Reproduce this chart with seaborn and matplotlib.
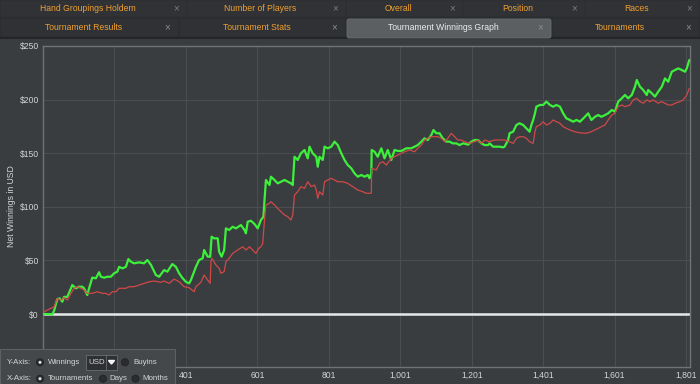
import numpy as np
import pandas as pd
import matplotlib
matplotlib.use('Agg')
import matplotlib.pyplot as plt
from matplotlib.patches import Rectangle, Circle, Polygon, FancyBboxPatch
from matplotlib.ticker import FuncFormatter
import seaborn as sns

# Net winnings (green)
green_t = [1, 9, 27, 32, 41, 48, 55, 60, 69, 79, 83, 93, 102, 111, 116, 125, 130, 139, 149, 158,
           163, 172, 181, 191, 200, 209, 214, 223, 233, 240, 247, 256, 270, 284, 293, 303, 317, 326,
           340, 349, 363, 373, 382, 392, 401, 410, 415, 429, 438, 448, 452, 462, 469, 473, 480, 490,
           494, 501, 508, 513, 522, 532, 541, 555, 565, 569, 574, 583, 593, 602, 611, 618, 621, 625,
           635, 639, 649, 658, 667, 677, 686, 695, 700, 705, 714, 723, 733, 742, 747, 756, 766, 770,
           775, 784, 789, 798, 808, 817, 826, 836, 845, 854, 864, 873, 882, 892, 901, 910, 915, 920,
           921, 929, 938, 948, 957, 966, 976, 985, 994, 1004, 1018, 1032, 1041, 1050, 1060, 1069,
           1078, 1088, 1094, 1102, 1111, 1120, 1130, 1139, 1148, 1158, 1167, 1177, 1191, 1200, 1209,
           1219, 1228, 1237, 1247, 1251, 1261, 1270, 1279, 1289, 1293, 1303, 1307, 1317, 1326, 1335,
           1345, 1354, 1363, 1368, 1373, 1378, 1382, 1392, 1401, 1410, 1420, 1429, 1438, 1448, 1457,
           1466, 1476, 1485, 1494, 1504, 1518, 1527, 1536, 1546, 1555, 1564, 1574, 1583, 1593, 1602,
           1611, 1621, 1630, 1639, 1649, 1658, 1663, 1672, 1681, 1691, 1695, 1705, 1714, 1723, 1733,
           1742, 1751, 1761, 1770, 1779, 1789, 1798, 1803, 1810]
green_v = [0, 0, -0.3, 3, 14, 14.6, 11.5, 16, 16, 24, 27, 24, 25.5, 25.5, 24, 17.7, 24, 34, 33.3, 39,
           34.8, 33.9, 34.8, 34.8, 38, 39.5, 44, 42.6, 44, 51.3, 48.8, 47.3, 48.2, 47.3, 50.4, 46, 36.4, 34.8,
           41, 39.5, 46.6, 44, 38, 33.3, 30.1, 28.6, 31.7, 44, 50.4, 52, 59.7, 53.5, 53.5, 72.1, 70.6, 70.6,
           58.1, 53.5, 59.7, 79.9, 78.4, 81.4, 79.9, 83, 78.4, 75.3, 86.1, 87, 84, 79.9, 87.7, 90.8, 106.3, 125,
           120.3, 128.1, 125, 121.9, 123.4, 125, 123.4, 121.9, 120.3, 146.7, 143.7, 149.9, 153, 145.2, 156.1, 149.9, 146.7, 137.4,
           146.7, 143.7, 156.1, 154.6, 156.1, 160.8, 157.6, 149.9, 143.7, 139, 135.9, 131.2, 128.1, 129.7, 128.1, 129.7, 126.6, 131.2,
           153, 151.4, 146.7, 154.6, 145.2, 153, 143.7, 153, 152.1, 152.1, 154.6, 154.6, 156.1, 157.6, 160.8, 163.9,
           162.3, 167, 171.6, 168.6, 168.6, 163.9, 160.8, 160.8, 159.2, 159.2, 157.6, 159.2, 158, 160.8, 162.3,
           162.3, 159.2, 157.6, 157.6, 159.2, 156.1, 156.1, 156.1, 155.5, 156.1, 162.3, 168.6, 170.1, 176.3, 177.9,
           176.3, 173.2, 170.1, 176.3, 181, 187.2, 193.4, 195, 195, 198.1, 195, 193.4, 195, 193.4, 187.2,
           182.5, 181, 179.4, 181, 179.4, 184, 187.2, 181, 184, 185.6, 184, 185.6, 187.2, 190.3, 188.8,
           198.1, 201.2, 204.3, 201.2, 204.3, 212, 218.3, 212, 209, 204.3, 209, 205.9, 202.8, 207.4, 212,
           219.8, 216.7, 226, 227.6, 229.1, 227.6, 226, 229.1, 236.9]

# Second series (red)
red_t = [1, 13, 23, 32, 41, 51, 60, 69, 79, 88, 97, 107, 116, 125, 139, 153, 167, 177, 186, 195,
         205, 214, 223, 233, 242, 256, 270, 284, 298, 312, 331, 340, 354, 368, 382, 396, 410, 424,
         429, 443, 452, 462, 469, 471, 474, 485, 494, 499, 508, 513, 522, 532, 546, 560, 569, 579,
         588, 597, 605, 611, 616, 621, 625, 635, 639, 649, 658, 667, 677, 686, 695, 700, 705, 714,
         723, 733, 742, 752, 761, 766, 770, 775, 784, 789, 798, 808, 817, 826, 840, 854, 868, 882,
         896, 906, 920, 921, 934, 943, 952, 962, 976, 985, 994, 1004, 1013, 1027, 1041, 1050, 1060,
         1069, 1078, 1088, 1097, 1106, 1116, 1125, 1134, 1144, 1153, 1162, 1172, 1181, 1195, 1209,
         1219, 1228, 1237, 1251, 1265, 1279, 1293, 1307, 1317, 1326, 1335, 1345, 1354, 1363, 1373,
         1378, 1382, 1392, 1401, 1410, 1420, 1429, 1438, 1448, 1457, 1466, 1476, 1490, 1504, 1522,
         1536, 1546, 1555, 1564, 1574, 1583, 1593, 1602, 1611, 1621, 1630, 1644, 1653, 1663, 1672,
         1681, 1691, 1700, 1709, 1723, 1733, 1742, 1751, 1761, 1770, 1784, 1793, 1803, 1810]
red_v = [1.6, 3.7, 5.3, 6.8, 14.6, 13, 15.2, 13, 19.3, 24, 25.5, 24, 22.4, 19.3, 19.3, 20.8, 19.3, 19.3, 17.7, 20.8,
         20.8, 24, 24, 24, 25.5, 25.5, 27, 28.6, 30.1, 30.8, 29.6, 30.8, 28.6, 32.6, 30.1, 25.5, 24.6, 20.8,
         25.5, 29.6, 36.4, 31.7, 28.6, 48.8, 52, 45.7, 42.6, 38, 39.5, 48.8, 52, 56.6, 59.7, 62.8, 59.7, 62.8,
         59.7, 56.6, 61.3, 62.8, 65.9, 87.7, 101.7, 103.3, 104.8, 101.7, 98.6, 95.4, 92.4, 90.8, 87.7, 92.4, 111, 114.1,
         118.8, 117.2, 123.4, 118.8, 120.3, 115.7, 107.9, 114.1, 111, 123.4, 125, 126.6, 125, 123.4, 123.4, 121.9, 118.8, 115.7,
         114.1, 112.6, 112.6, 135.9, 134.3, 140.6, 142.1, 139, 145.2, 146.7, 148.3, 149.9, 151.4, 153, 151.4, 154.6, 157.6,
         162.3, 163.9, 165.4, 165.4, 165.4, 163.9, 160.8, 163.9, 168.6, 165.4, 162.3, 162.3, 160.8, 159.2, 160.8,
         162.3, 159.2, 162.3, 160.8, 162.3, 162.3, 162.3, 160.8, 159.2, 163.9, 165.4, 165.4, 163.9, 160.8, 159.2,
         170.1, 174.8, 176.3, 179.4, 176.3, 177.9, 181, 179.4, 177.9, 174.8, 173.2, 171.7, 170, 169, 168.6,
         170.1, 171.7, 173.2, 174.8, 176.3, 181, 185.6, 187.2, 193.4, 195, 193.4, 195, 199.7, 201.2, 198.1,
         196.6, 199.7, 198.1, 199.7, 196.6, 198.1, 196.6, 195, 195, 196.6, 198.1, 199.7, 204.3, 210.5]

x_ticks = [1, 201, 401, 601, 801, 1001, 1201, 1401, 1601, 1801]
y_ticks = [0, 50, 100, 150, 200, 250]

tabs_top = ["Hand Groupings Holdem", "Number of Players", "Overall", "Position", "Races"]
tabs_bottom = ["Tournament Results", "Tournament Stats", "Tournament Winnings Graph", "Tournaments"]
active_tab = "Tournament Winnings Graph"

BG = '#3a3d40'
GRID = '#4a4e51'
TXT = '#d4d4d4'
ORANGE = '#f0a030'

sns.set_theme(style="dark", rc={'axes.facecolor': BG, 'figure.facecolor': BG})
plt.rcParams['font.family'] = ['Liberation Sans', 'DejaVu Sans']

fig = plt.figure(figsize=(7, 3.84), dpi=100, facecolor=BG)
ax = fig.add_axes([43/700, 1 - 367/384, (690 - 43)/700, (367 - 46)/384])
ax.set_facecolor(BG)

ax.axhline(0, color='#e8e8e8', lw=1.8, zorder=2)
sns.lineplot(x=green_t, y=green_v, ax=ax, color='#3cf03c', linewidth=1.6, zorder=3)
sns.lineplot(x=red_t, y=red_v, ax=ax, color='#d04848', linewidth=0.9, zorder=4)

ax.set_xlim(1, 1812)
ax.set_ylim(-49.4, 250)
ax.set_xticks(x_ticks)
# labels for 1 and 201 sit under the axis selector panel in the app
ax.set_xticklabels([f"{t:,}" if t > 300 else '' for t in x_ticks])
ax.set_yticks(y_ticks)
ax.yaxis.set_major_formatter(FuncFormatter(lambda v, p: f"${v:.0f}"))
ax.grid(True, color=GRID, lw=0.8)
ax.tick_params(length=0, colors=TXT, labelsize=6.2)
ax.tick_params(axis='x', pad=3)
ax.tick_params(axis='y', pad=3)
ax.set_xlabel('')
ax.set_ylabel('')
for s in ax.spines.values():
    s.set_visible(True)
    s.set_color('#6f7376')
    s.set_linewidth(1.0)

fig.text(12/700, 1 - 206/384, 'Net Winnings in USD', rotation=90, ha='center', va='center',
         color=TXT, fontsize=6.2)

# UI chrome drawn in pixel coordinates
ui = fig.add_axes([0, 0, 1, 1], zorder=10)
ui.set_xlim(0, 700)
ui.set_ylim(384, 0)
ui.axis('off')
ui.patch.set_alpha(0)

ui.add_patch(Rectangle((0, 0), 700, 17, facecolor='#2d2f32', edgecolor='none'))
ui.add_patch(Rectangle((0, 17), 700, 21, facecolor='#2b2d30', edgecolor='none'))
ui.add_patch(Rectangle((0, 37), 700, 1.5, facecolor='#232527', edgecolor='none'))

top_x = [0, 187, 346, 463, 585, 700]
for i, name in enumerate(tabs_top):
    x0, x1 = top_x[i], top_x[i + 1]
    ui.add_patch(Rectangle((x0 + 1, 1), x1 - x0 - 2, 15, facecolor='#303235', edgecolor='none'))
    ui.text((x0 + x1 - 12) / 2, 8.5, name, color=ORANGE, fontsize=6.2, ha='center', va='center')
    ui.text(x1 - 11, 8.5, '×', color='#7a7d80', fontsize=7, ha='center', va='center')

bot_x = [0, 179, 346, 552, 700]
for i, name in enumerate(tabs_bottom):
    x0, x1 = bot_x[i], bot_x[i + 1]
    if name == active_tab:
        ui.add_patch(FancyBboxPatch((x0 + 1, 19), x1 - x0 - 2, 19, boxstyle='round,pad=0,rounding_size=2',
                                    facecolor='#5b5f62', edgecolor='#6a6e71', lw=0.6))
        col = '#ececec'
    else:
        ui.add_patch(Rectangle((x0 + 1, 19), x1 - x0 - 2, 17, facecolor='#2f3134', edgecolor='none'))
        col = ORANGE
    ui.text((x0 + x1 - 12) / 2, 27.7, name, color=col, fontsize=6.2, ha='center', va='center')
    ui.text(x1 - 12, 27.7, '×', color='#8a8d90', fontsize=7, ha='center', va='center')

# axis selector panel
ui.add_patch(Rectangle((0, 349), 175, 36, facecolor='#45484b', edgecolor='#5d6164', lw=0.8))


def radio(x, y, on):
    ui.add_patch(Circle((x, y), 3.6, facecolor='#2a2c2e', edgecolor='#1e1f21', lw=0.5))
    if on:
        ui.add_patch(Circle((x, y), 1.5, facecolor='#e6e6e6', edgecolor='none'))


PFS = 5.7
ry, rx = 362.3, 378.7
ui.text(7, ry, 'Y-Axis:', color=TXT, fontsize=PFS, va='center')
radio(40, ry, True)
ui.text(47.5, ry, 'Winnings', color=TXT, fontsize=PFS, va='center')
ui.add_patch(Rectangle((86, 355), 31, 14.5, facecolor='#2e3033', edgecolor='#6a6e71', lw=0.6))
ui.plot([106, 106], [355, 369.5], color='#6a6e71', lw=0.6)
ui.text(88, ry, 'USD', color=TXT, fontsize=PFS, va='center')
ui.add_patch(Polygon([[108.5, 360.5], [114.5, 360.5], [111.5, 364]], closed=True, facecolor='#e0e0e0'))
radio(125, ry, False)
ui.text(133, ry, 'Buyins', color=TXT, fontsize=PFS, va='center')

ui.text(7, rx, 'X-Axis:', color=TXT, fontsize=PFS, va='center')
radio(40, rx, True)
ui.text(47.5, rx, 'Tournaments', color=TXT, fontsize=PFS, va='center')
radio(103, rx, False)
ui.text(109.5, rx, 'Days', color=TXT, fontsize=PFS, va='center')
radio(135.5, rx, False)
ui.text(142, rx, 'Months', color=TXT, fontsize=PFS, va='center')

plt.savefig('out.png', dpi=100, facecolor=BG)
plt.close()
